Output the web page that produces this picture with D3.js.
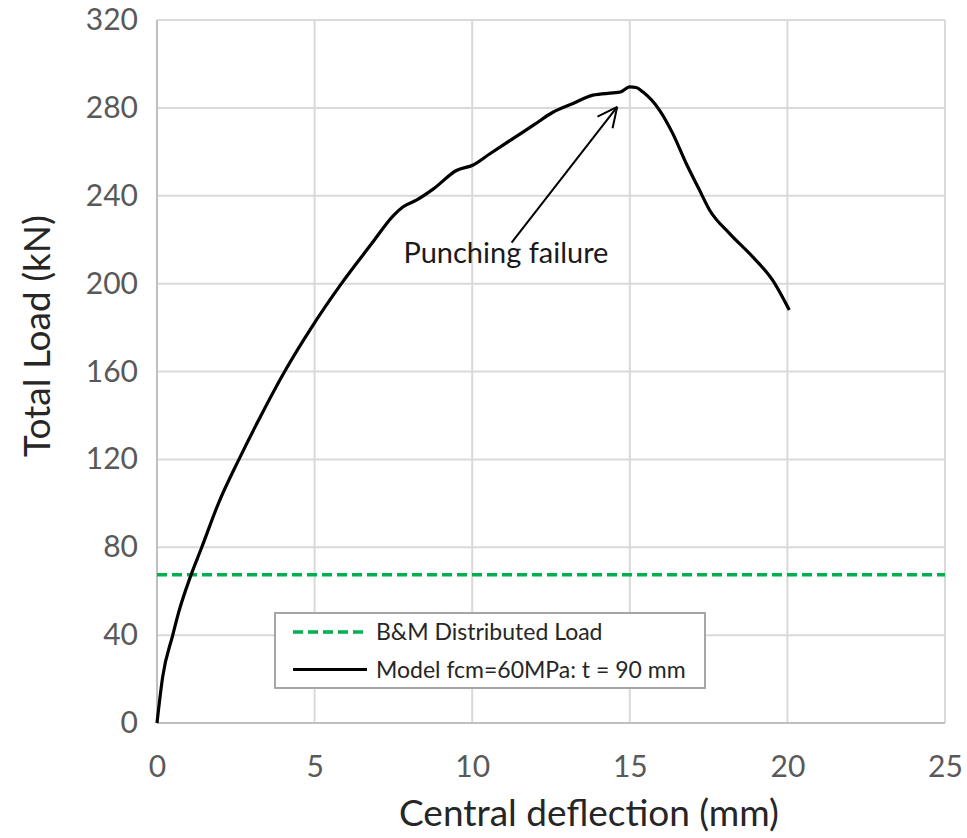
<!DOCTYPE html>
<html>
<head>
<meta charset="utf-8">
<script src="https://cdn.jsdelivr.net/npm/d3@7"></script>
<style>
  body { margin: 0; background: #fff; }
  svg { display: block; font-family: Lato, "Open Sans", sans-serif; }
</style>
</head>
<body>
<svg id="chart" width="967" height="838"></svg>
<script>
// central deflection (mm) / total load (kN)
const deflection = [0, 0.18, 0.5, 0.68, 1.07, 1.42, 1.95, 2.6, 3.3, 4.05, 4.9, 5.85, 6.8, 7.5, 7.81, 8.23, 8.76, 9.5, 10.03, 10.55, 11.29, 11.93, 12.56, 13.2, 13.83, 14.47, 14.7, 15.0, 15.2, 15.41, 15.94, 16.36, 16.79, 17.21, 17.53, 18.16, 18.9, 19.53, 20.06];
const load = [0, 21, 40, 50, 67, 80, 100, 120, 140, 160, 180, 200, 218, 231, 235, 238, 243, 251.5, 254, 259, 266, 272, 278, 282, 285.8, 286.8, 287.2, 289.6, 289.3, 287.3, 279, 268.4, 254.7, 242.6, 233.5, 222.9, 212.2, 201.6, 188];

const bmLoad = 67.5;   // B&M distributed load, kN

const xTicks = [0, 5, 10, 15, 20, 25];
const yTicks = [0, 40, 80, 120, 160, 200, 240, 280, 320];

const legendLabels = ['B&M Distributed Load', 'Model fcm=60MPa: t = 90 mm'];

const noteText = 'Punching failure';
const noteTail = [11.25, 218.7];
const noteHead = [14.6, 280.5];
const noteAt = [11.07, 209.5];

const margin = {top: 20, right: 22, bottom: 115, left: 157};
const W = 967, H = 838;
const w = W - margin.left - margin.right;
const h = H - margin.top - margin.bottom;

const svg = d3.select('#chart');
const g = svg.append('g').attr('transform', `translate(${margin.left},${margin.top})`);

const x = d3.scaleLinear().domain([0, 25]).range([0, w]);
const y = d3.scaleLinear().domain([0, 320]).range([h, 0]);

// grid
g.append('g').selectAll('line').data(yTicks).join('line')
  .attr('x1', 0).attr('x2', w)
  .attr('y1', d => y(d)).attr('y2', d => y(d))
  .attr('stroke', '#d9d9d9').attr('stroke-width', 2);
g.append('g').selectAll('line').data(xTicks).join('line')
  .attr('y1', 0).attr('y2', h)
  .attr('x1', d => x(d)).attr('x2', d => x(d))
  .attr('stroke', '#d9d9d9').attr('stroke-width', 2);

// axes lines
g.append('line').attr('x1', 0).attr('x2', 0).attr('y1', 0).attr('y2', h)
  .attr('stroke', '#bfbfbf').attr('stroke-width', 2);
g.append('line').attr('x1', 0).attr('x2', w).attr('y1', h).attr('y2', h)
  .attr('stroke', '#bfbfbf').attr('stroke-width', 2);

// tick labels
const yAxis = g.append('g').call(d3.axisLeft(y).tickValues(yTicks).tickSize(0).tickPadding(19));
const xAxis = g.append('g').attr('transform', `translate(0,${h})`)
  .call(d3.axisBottom(x).tickValues(xTicks).tickSize(0).tickPadding(33));
[yAxis, xAxis].forEach(a => {
  a.select('.domain').remove();
  a.selectAll('text').attr('font-size', 30).attr('fill', '#595959')
    .attr('font-family', 'Lato, sans-serif');
});

// axis titles
svg.append('text')
  .attr('transform', `translate(50,336) rotate(-90)`)
  .attr('text-anchor', 'middle')
  .attr('font-size', 37).attr('fill', '#262626')
  .text('Total Load (kN)');
svg.append('text')
  .attr('x', 589).attr('y', 826)
  .attr('text-anchor', 'middle')
  .attr('font-size', 37).attr('fill', '#262626')
  .text('Central deflection (mm)');

// B&M line
g.append('line')
  .attr('x1', 0).attr('x2', w)
  .attr('y1', y(bmLoad)).attr('y2', y(bmLoad))
  .attr('stroke', '#00b050').attr('stroke-width', 3.5)
  .attr('stroke-dasharray', '10,5');

// model curve
const pts = deflection.map((d, i) => [d, load[i]]);
const line = d3.line().x(d => x(d[0])).y(d => y(d[1])).curve(d3.curveMonotoneX);
g.append('path').datum(pts)
  .attr('d', line)
  .attr('fill', 'none').attr('stroke', '#000').attr('stroke-width', 3.2)
  .attr('stroke-linejoin', 'round');

// annotation arrow
const tx = x(noteTail[0]), ty = y(noteTail[1]);
const hx = x(noteHead[0]), hy = y(noteHead[1]);
g.append('line').attr('x1', tx).attr('y1', ty).attr('x2', hx).attr('y2', hy)
  .attr('stroke', '#000').attr('stroke-width', 2);
const ang = Math.atan2(hy - ty, hx - tx);
const headLen = 22, spread = Math.PI / 7;
[ang + spread, ang - spread].forEach(a => {
  g.append('line')
    .attr('x1', hx).attr('y1', hy)
    .attr('x2', hx - headLen * Math.cos(a)).attr('y2', hy - headLen * Math.sin(a))
    .attr('stroke', '#000').attr('stroke-width', 2);
});
g.append('text')
  .attr('x', x(noteAt[0])).attr('y', y(noteAt[1]))
  .attr('text-anchor', 'middle')
  .attr('font-size', 29).attr('fill', '#1a1a1a')
  .text(noteText);

// legend
const lg = svg.append('g').attr('transform', 'translate(275,613)');
lg.append('rect').attr('width', 430).attr('height', 75)
  .attr('fill', '#fff').attr('stroke', '#a6a6a6').attr('stroke-width', 2);
const styles = [
  {stroke: '#00b050', dash: '10,5', width: 3.5},
  {stroke: '#000', dash: null, width: 3.2}
];
legendLabels.forEach((lab, i) => {
  const yy = 19 + i * 37.5;
  lg.append('line').attr('x1', 18).attr('x2', 92).attr('y1', yy).attr('y2', yy)
    .attr('stroke', styles[i].stroke).attr('stroke-width', styles[i].width)
    .attr('stroke-dasharray', styles[i].dash);
  lg.append('text').attr('x', 101).attr('y', yy + 8)
    .attr('font-size', 23).attr('fill', '#262626')
    .text(lab);
});
</script>
</body>
</html>
